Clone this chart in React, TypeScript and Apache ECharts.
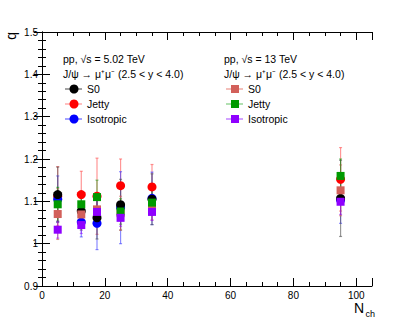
import React, { useEffect, useRef } from "react";
import * as echarts from "echarts";

const nch = [5, 12.5, 17.5, 25, 35, 95];
const xTicks = [0, 20, 40, 60, 80, 100];
const yTicks = [0.9, 1.0, 1.1, 1.2, 1.3, 1.4, 1.5];

const s0_502 = [1.116, 1.077, 1.061, 1.092, 1.105, 1.107];
const jetty_502 = [1.112, 1.116, 1.112, 1.137, 1.134, 1.152];
const iso_502 = [1.105, 1.051, 1.048, 1.085, 1.107, 1.103];
const s0_13 = [1.07, 1.069, 1.081, 1.072, 1.086, 1.126];
const jetty_13 = [1.093, 1.093, 1.11, 1.076, 1.097, 1.16];
const iso_13 = [1.033, 1.044, 1.075, 1.061, 1.075, 1.099];

const s0_502_err = [0.065, 0.045, 0.05, 0.06, 0.06, 0.09];
const jetty_502_err = [0.07, 0.055, 0.09, 0.063, 0.053, 0.075];
const iso_502_err = [0.055, 0.035, 0.062, 0.085, 0.062, 0.055];
const s0_13_err = [0.06, 0.03, 0.04, 0.04, 0.03, 0.06];
const jetty_13_err = [0.04, 0.03, 0.04, 0.03, 0.03, 0.04];
const iso_13_err = [0.02, 0.02, 0.03, 0.02, 0.02, 0.03];

type SeriesDef = {
  name: string;
  vals: number[];
  errs: number[];
  color: string;
  errColor: string;
  symbol: string;
  size: number;
};

const seriesDefs: SeriesDef[] = [
  { name: "Jetty 5.02", vals: jetty_502, errs: jetty_502_err, color: "#ff0000", errColor: "rgba(255,80,80,0.6)", symbol: "circle", size: 9 },
  { name: "Isotropic 5.02", vals: iso_502, errs: iso_502_err, color: "#0000ff", errColor: "rgba(60,60,255,0.6)", symbol: "circle", size: 9 },
  { name: "S0 5.02", vals: s0_502, errs: s0_502_err, color: "#000000", errColor: "rgba(80,80,80,0.6)", symbol: "circle", size: 9 },
  { name: "S0 13", vals: s0_13, errs: s0_13_err, color: "#d2605a", errColor: "rgba(210,96,90,0.6)", symbol: "rect", size: 8 },
  { name: "Jetty 13", vals: jetty_13, errs: jetty_13_err, color: "#009a00", errColor: "rgba(0,154,0,0.5)", symbol: "rect", size: 8 },
  { name: "Isotropic 13", vals: iso_13, errs: iso_13_err, color: "#8f00ff", errColor: "rgba(143,0,255,0.5)", symbol: "rect", size: 8 },
];

const FONT = "Liberation Sans, Arial, sans-serif";

export default function App() {
  const ref = useRef<HTMLDivElement>(null);
  useEffect(() => {
    if (!ref.current) return;
    const chart = echarts.init(ref.current, undefined, { renderer: "svg" });

    const series: any[] = [];
    seriesDefs.forEach((d) => {
      series.push({
        type: "custom",
        name: d.name + " err",
        xAxisIndex: 0,
        yAxisIndex: 0,
        z: 2,
        data: nch.map((x, i) => [x, d.vals[i], d.errs[i]]),
        renderItem: (params: any, api: any) => {
          const x = api.value(0);
          const y = api.value(1);
          const e = api.value(2);
          const top = api.coord([x, y + e]);
          const bot = api.coord([x, y - e]);
          const st = { stroke: d.errColor, lineWidth: 1.2 };
          return {
            type: "group",
            children: [
              { type: "line", shape: { x1: top[0], y1: top[1], x2: bot[0], y2: bot[1] }, style: st },
              { type: "line", shape: { x1: top[0] - 1.5, y1: top[1], x2: top[0] + 1.5, y2: top[1] }, style: st },
              { type: "line", shape: { x1: bot[0] - 1.5, y1: bot[1], x2: bot[0] + 1.5, y2: bot[1] }, style: st },
            ],
          };
        },
      });
    });
    seriesDefs.forEach((d, si) => {
      series.push({
        type: "scatter",
        name: d.name,
        z: 10 + si,
        symbol: d.symbol,
        symbolSize: d.size,
        itemStyle: { color: d.color, opacity: 1 },
        data: nch.map((x, i) => [x, d.vals[i]]),
      });
    });

    const axisLine = { show: true, lineStyle: { color: "#000", width: 1 } };
    const tick = { show: true, inside: true, length: 8, lineStyle: { color: "#000" } };
    const minor = { show: true, length: 4, lineStyle: { color: "#000" } };

    const legendItems = (x0: number, symbol: "circle" | "rect", colors: string[], lineColors: string[], title: string) => {
      const els: any[] = [];
      els.push({ type: "text", left: x0, top: 53, style: { text: title, font: `10.5px ${FONT}`, fill: "#000" } });
      els.push({ type: "text", left: x0, top: 68, style: { text: "J/ψ → μ⁺μ⁻ (2.5 < y < 4.0)", font: `10.5px ${FONT}`, fill: "#000" } });
      const names = ["S0", "Jetty", "Isotropic"];
      names.forEach((n, i) => {
        const cy = 89 + i * 15;
        els.push({ type: "line", shape: { x1: x0 + 2, y1: cy, x2: x0 + 19, y2: cy }, style: { stroke: lineColors[i], lineWidth: 1.2 } });
        if (symbol === "circle") {
          els.push({ type: "circle", shape: { cx: x0 + 11, cy, r: 4.5 }, style: { fill: colors[i] } });
        } else {
          els.push({ type: "rect", shape: { x: x0 + 7, y: cy - 4, width: 8, height: 8 }, style: { fill: colors[i] } });
        }
        els.push({ type: "text", left: x0 + 24, top: cy - 6, style: { text: n, font: `10.5px ${FONT}`, fill: "#000" } });
      });
      return els;
    };

    chart.setOption({
      animation: false,
      backgroundColor: "#fff",
      grid: { left: 42, right: 42, top: 32, bottom: 32, containLabel: false },
      xAxis: [
        {
          type: "value", min: 0, max: 105, interval: 20, position: "bottom",
          axisLine, axisTick: tick, minorTick: { ...minor, splitNumber: 4 }, splitLine: { show: false },
          axisLabel: { color: "#000", fontFamily: FONT, fontSize: 10, margin: 4,
            formatter: (v: number) => (xTicks.includes(v) ? String(v) : "") },
        },
        {
          type: "value", min: 0, max: 105, interval: 20, position: "top",
          axisLine, axisTick: tick, minorTick: { ...minor, splitNumber: 4 }, splitLine: { show: false },
          axisLabel: { show: false },
        },
      ],
      yAxis: [
        {
          type: "value", min: 0.9, max: 1.5, interval: 0.1, position: "left",
          axisLine, axisTick: tick, minorTick: { ...minor, splitNumber: 5 }, splitLine: { show: false },
          axisLabel: { color: "#000", fontFamily: FONT, fontSize: 10, margin: 4,
            formatter: (v: number) => {
              const r = Math.round(v * 10) / 10;
              return yTicks.some((t) => Math.abs(t - r) < 1e-6) ? String(r) : "";
            } },
        },
        {
          type: "value", min: 0.9, max: 1.5, interval: 0.1, position: "right",
          axisLine, axisTick: tick, minorTick: { ...minor, splitNumber: 5 }, splitLine: { show: false },
          axisLabel: { show: false },
        },
      ],
      graphic: [
        { type: "text", left: 4, top: 32, rotation: Math.PI / 2, style: { text: "q", font: `14px ${FONT}`, fill: "#000" } },
        { type: "text", left: 354, top: 301, style: { text: "N", font: `14px ${FONT}`, fill: "#000" } },
        { type: "text", left: 365.5, top: 309, style: { text: "ch", font: `9px ${FONT}`, fill: "#000" } },
        ...legendItems(63, "circle", ["#000", "#ff0000", "#0000ff"], ["rgba(60,60,60,0.8)", "rgba(255,120,120,0.8)", "rgba(60,60,255,0.8)"], "pp, √s = 5.02 TeV"),
        ...legendItems(224, "rect", ["#d2605a", "#009a00", "#8f00ff"], ["rgba(230,120,110,0.8)", "rgba(90,190,90,0.8)", "rgba(160,60,255,0.8)"], "pp, √s = 13 TeV"),
      ],
      series,
    });
    return () => chart.dispose();
  }, []);
  return <div ref={ref} style={{ position: "fixed", left: 0, top: 0, width: 414, height: 318 }} />;
}
